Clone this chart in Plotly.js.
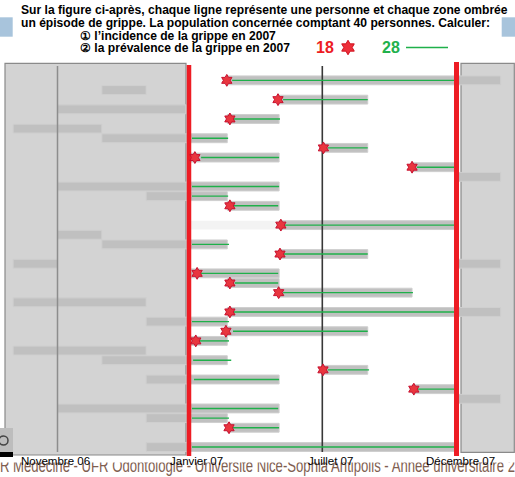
<!DOCTYPE html>
<html><head><meta charset="utf-8">
<script src="https://cdn.plot.ly/plotly-3.0.1.min.js"></script>
<style>html,body{margin:0;padding:0;background:#fff}#chart{width:515px;height:477px}</style>
</head><body><div id="chart"></div>
<script>
// Time axis: 1 unit = one grid step (Novembre 06 = 1, Janvier 07 ~ 4, Juillet 07 ~ 7, Décembre 07 = 10)
// Rows: one per person (40 persons, rows 0..39)
const episodeRow   = [1,2,3,4,5,6,7,8,9,10,11,12,13,14,16,17,18,19,20,20,21,22,23,24,25,26,27,28,29,30,31,32,33,34,35,36,37,39];
const episodeStart = [4.83,2,6,1,4.83,0,2,7,4,9,10,1,3,4.83,6,1,2,6,0,10,4,4.83,6,0,4.83,3,4.83,4,0,2,7,3,9,10,1,3,4.83,3];
const episodeEnd   = [11,3,8,3.9,6,2,4.83,8,6,10,11,6,4.83,6,10,2,4.83,8,1,11,6,6,9,3,11,4.83,8,4.83,3,4.83,8,6,10,11,6,4.83,6,10];

const faintRow = [16], faintStart = [4], faintEnd = [6];

// new cases in 2007 (incidence)
const starRow = [1,3,5,8,9,10,14,16,19,21,22,23,25,27,28,31,33,37];
const starX   = [4.82,5.975,4.89,7.0,4.10,9.0,4.89,6.04,6.02,4.15,4.89,5.99,4.89,4.80,4.12,6.99,9.04,4.87];

// cases present in 2007 (prevalence)
const greenRow   = [1,3,5,7,8,9,10,12,13,14,16,18,19,21,22,23,25,26,27,28,30,31,32,33,35,36,37,39];
const greenStart = [4.94,6.09,4.96,4.035,7.1,4.24,9.11,4.035,4.035,4.96,6.09,4.035,6.09,4.24,5.0,6.09,4.96,4.035,4.96,4.19,4.06,7.1,4.08,9.13,4.035,4.035,4.94,4.035];
const greenEnd   = [9.97,8.0,6.02,4.85,8.0,6.0,9.97,6.0,4.85,5.98,10.01,4.87,8.0,5.98,5.98,9.02,9.97,4.87,8.0,4.87,4.92,8.03,6.0,9.97,5.98,4.87,6.0,9.97];

const novX = 1.0, janX = 3.967, julX = 6.975, decX = 10.003;
const tickLabels = ['Novembre 06','Janvier 07','Juillet 07','Décembre 07'];
const tickLabelX = [0.96, 4.14, 7.17, 10.09];
const footerText = 'UFR Médecine - UFR Odontologie - Université Nice-Sophia Antipolis - Année universitaire 2007-2008';

// ---- pixel helpers (layout only) ----
const W = 515, H = 477;
const U0 = 13.18, UPX = 44.32;      // px = U0 + UPX*u
const K0 = 70.7, KPX = 9.65;        // py = K0 + KPX*k
const kOf = py => (py - K0) / KPX;
const uOf = px => (px - U0) / UPX;
const pxp = x => x / W, pyp = y => 1 - y / H;

const traces = [];
// slide footer (narrow font, partly hidden under the figure)
traces.push({type:'scatter', mode:'text', x:[uOf(276.4)], y:[kOf(467.2)], text:[footerText], textposition:'middle center',
  textfont:{family:'Liberation Sans, Arial, sans-serif', size:18, color:'#7f5e50'}, cliponaxis:false, hoverinfo:'skip'});
traces.push({type:'bar', orientation:'h', y:faintRow, base:faintStart,
  x:faintEnd.map((e,i)=>e-faintStart[i]), width:0.92,
  marker:{color:'#f3f3f3', line:{width:0}}, hoverinfo:'skip'});
traces.push({type:'bar', orientation:'h', y:episodeRow, base:episodeStart,
  x:episodeEnd.map((e,i)=>e-episodeStart[i]), width:0.92,
  marker:{color:'#c0c0c0', line:{color:'#cfcfcf', width:1}}, hoverinfo:'skip'});

function vline(x, k1, k2, color, w){
  return {type:'scatter', mode:'lines', x:[x,x], y:[k1,k2], line:{color:color, width:w}, hoverinfo:'skip'};
}
traces.push(vline(novX, kOf(66), kOf(452), '#8d8d8d', 1.5));
traces.push(vline(julX, kOf(66), kOf(452), '#383838', 1.6));

const gx = [], gy = [];
greenRow.forEach((r,i)=>{ gx.push(greenStart[i], greenEnd[i], null); gy.push(r, r, null); });
traces.push({type:'scatter', mode:'lines', x:gx, y:gy, line:{color:'#1fb04a', width:1.4}, hoverinfo:'skip'});

traces.push(vline(janX, kOf(65), kOf(456), '#ed1c24', 4.5));
traces.push(vline(decX, kOf(62), kOf(456), '#ed1c24', 5));

traces.push({type:'scatter', mode:'markers', x:starX, y:starRow,
  marker:{symbol:'hexagram', size:9, color:'#e8363f', line:{color:'#c8102e', width:1}}, hoverinfo:'skip'});

// legend marks
traces.push({type:'scatter', mode:'markers', x:[uOf(348)], y:[kOf(47.5)],
  marker:{symbol:'hexagram', size:11, color:'#ee2f3a', line:{color:'#d0101e', width:1}}, hoverinfo:'skip'});
traces.push({type:'scatter', mode:'lines', x:[uOf(406), uOf(448)], y:[kOf(47.5), kOf(47.5)],
  line:{color:'#1fb04a', width:1.4}, hoverinfo:'skip'});

const FONT = 'Liberation Sans, Arial, sans-serif';
const annotations = [];
tickLabels.forEach((t,i)=>annotations.push({xref:'x', yref:'paper', x:tickLabelX[i], y:pyp(461), xanchor:'center', yanchor:'middle',
  showarrow:false, text:t, font:{family:FONT, size:11.5, color:'#000'}}));
const titleLines = [
  ['Sur la figure ci-après, chaque ligne représente une personne et chaque zone ombrée', 19, 10],
  ['un épisode de grippe. La population concernée comptant 40 personnes. Calculer:', 19, 23],
  ['① l’incidence de la grippe en 2007', 78, 35.5],
  ['② la prévalence de la grippe en 2007', 78, 48]
];
titleLines.forEach(l=>annotations.push({xref:'paper', yref:'paper', x:pxp(l[1]), y:pyp(l[2]), xanchor:'left', yanchor:'middle',
  showarrow:false, text:'<b>'+l[0]+'</b>', font:{family:FONT, size:12.1, color:'#000'}}));
annotations.push({xref:'paper', yref:'paper', x:pxp(325), y:pyp(47.5), xanchor:'center', yanchor:'middle', showarrow:false,
  text:'<b>'+starRow.length+'</b>', font:{family:FONT, size:16, color:'#ed1c24'}});
annotations.push({xref:'paper', yref:'paper', x:pxp(391), y:pyp(47.5), xanchor:'center', yanchor:'middle', showarrow:false,
  text:'<b>'+greenRow.length+'</b>', font:{family:FONT, size:16, color:'#22b14c'}});

const shapes = [
  {type:'rect', xref:'x', yref:'y', x0:uOf(5), x1:uOf(186), y0:kOf(63.3), y1:kOf(455), layer:'below',
   fillcolor:'#d3d3d3', line:{color:'#8a8a8a', width:1.2}},
  {type:'rect', xref:'x', yref:'y', x0:uOf(461), x1:uOf(514.3), y0:kOf(63.3), y1:kOf(452.3), layer:'below',
   fillcolor:'#d3d3d3', line:{color:'#8a8a8a', width:1.2}},
  // white strip of the figure that hides the top of the footer
  {type:'rect', xref:'paper', yref:'paper', x0:0, x1:1, y0:pyp(462.5), y1:pyp(456.5), fillcolor:'#fff', line:{width:0}},
  {type:'rect', xref:'paper', yref:'paper', x0:0, x1:pxp(12.7), y0:pyp(36.7), y1:pyp(17.3), fillcolor:'#a8c4dc', line:{width:0}},
  {type:'rect', xref:'paper', yref:'paper', x0:pxp(501.7), x1:1, y0:pyp(36.7), y1:pyp(17.3), fillcolor:'#a8c4dc', line:{width:0}},
  {type:'rect', xref:'paper', yref:'paper', x0:0, x1:pxp(13), y0:pyp(452), y1:pyp(428), fillcolor:'#bdbdbd', line:{width:0}},
  {type:'circle', xref:'paper', yref:'paper', x0:pxp(-1), x1:pxp(8), y0:pyp(445), y1:pyp(436), line:{color:'#444', width:1.5}},
  {type:'rect', xref:'paper', yref:'paper', x0:0, x1:pxp(13), y0:pyp(457), y1:pyp(452), fillcolor:'#000', line:{width:0}}
];

const layout = {
  width:W, height:H, margin:{l:0,r:0,t:0,b:0}, paper_bgcolor:'#fff', plot_bgcolor:'#fff',
  showlegend:false, barmode:'overlay',
  xaxis:{range:[uOf(0), uOf(W)], showgrid:false, zeroline:false, showticklabels:false, fixedrange:true},
  yaxis:{range:[kOf(H), kOf(0)], showgrid:false, zeroline:false, showticklabels:false, fixedrange:true},
  shapes:shapes, annotations:annotations
};
Plotly.newPlot('chart', traces, layout, {displayModeBar:false, staticPlot:true}).then(()=>{
  // the footer uses a narrow face: compress its glyphs to the narrow width
  document.querySelectorAll('#chart .textpoint text').forEach(t=>{
    t.setAttribute('textLength', '588');
    t.setAttribute('lengthAdjust', 'spacingAndGlyphs');
  });
});
</script></body></html>
